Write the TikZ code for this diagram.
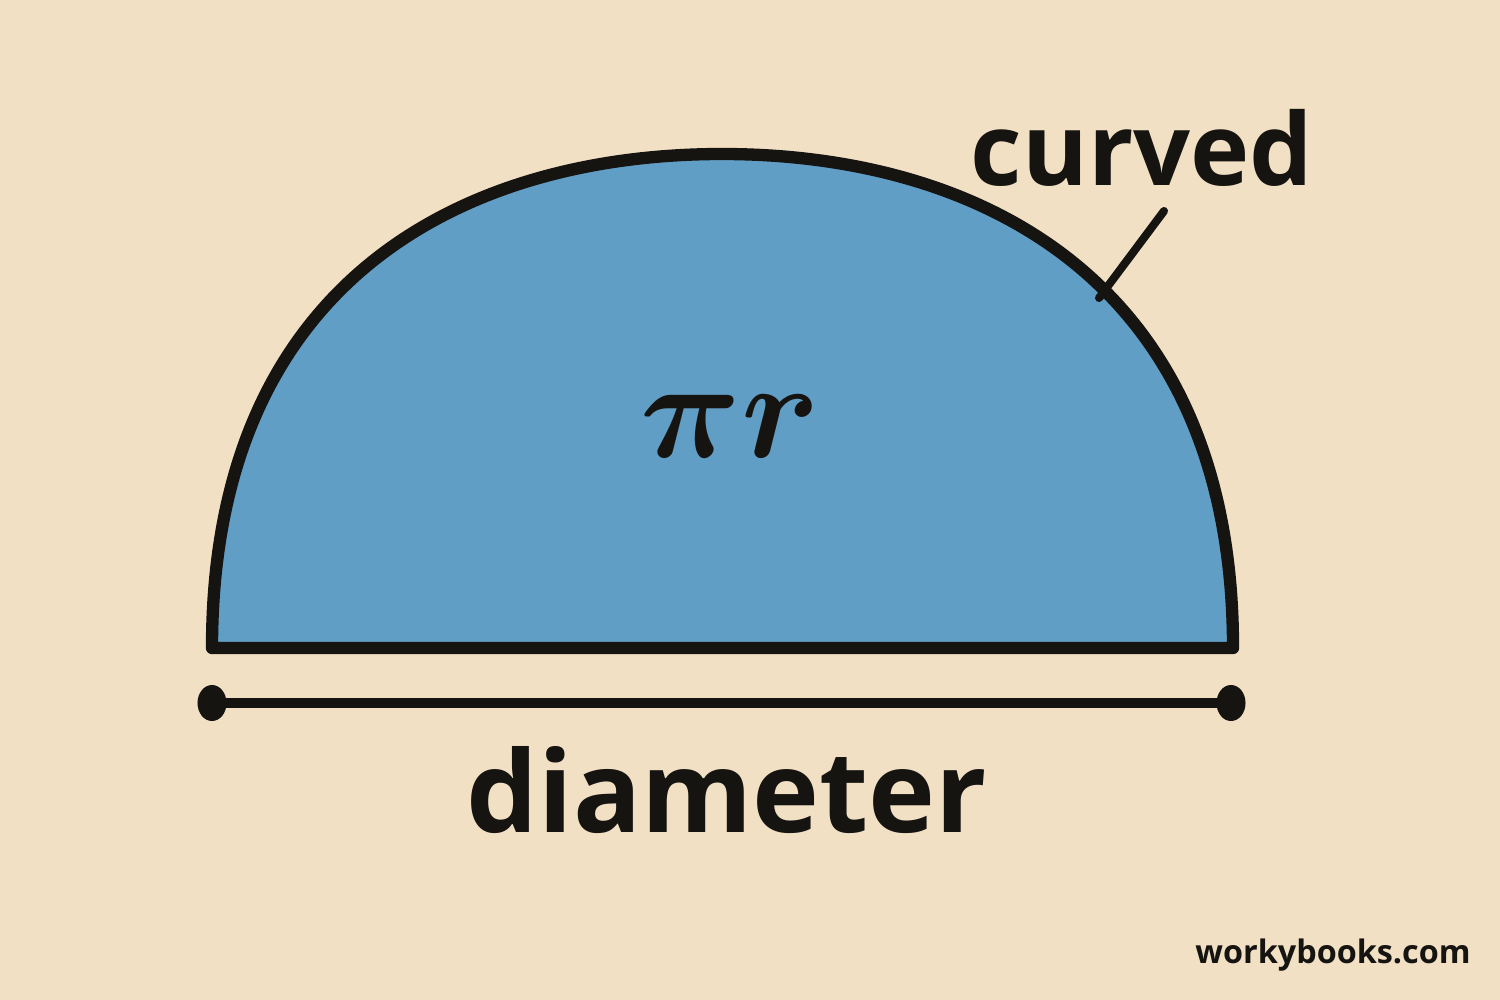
\documentclass[tikz,border=0pt]{standalone}
\usepackage{fontspec}
\setmainfont{Open Sans}
\usetikzlibrary{shapes.geometric}
\definecolor{paper}{RGB}{242,224,197}
\definecolor{shapeblue}{RGB}{97,158,198}
\definecolor{ink}{RGB}{22,20,17}
\tikzset{
    dot/.style={ellipse, fill=ink, inner sep=0pt, minimum width=0.29cm, minimum height=0.36cm},
    label/.style={text=ink, anchor=base}
}
\begin{document}
\begin{tikzpicture}[x=0.01cm, y=-0.01cm, line width=0.4pt]
\fill[paper] (0,0) rectangle (1500,1000);

\draw[ink, fill=shapeblue, line width=3.5pt, line join=round]
    (212,648) .. controls (212,278) and (467,154) .. (722,154)
    .. controls (977,154) and (1233,278) .. (1233,648) -- cycle;

\node[text=ink, font=\Huge\boldmath, scale=1.6] (pir) at (730,426) {$\pi r$};

\node[label, font=\fontsize{28.5}{32}\selectfont\bfseries] (curved) at (1142,185) {curved};
\coordinate (arcpt) at (1099,298);
\coordinate (lead) at (1164,211);
\draw[ink, line width=2.3pt, line cap=round] (arcpt) -- (lead);

\node[dot] (ldot) at (212,703) {};
\node[dot] (rdot) at (1231,703) {};
\draw[ink, line width=2.6pt] (ldot.center) -- (rdot.center);

\node[label, font=\fontsize{32.2}{36}\selectfont\bfseries] (diam) at (727,832) {diameter};

\node[label, font=\fontsize{9.2}{11}\selectfont\bfseries] (site) at (1333,963) {workybooks.com};
\end{tikzpicture}
\end{document}
